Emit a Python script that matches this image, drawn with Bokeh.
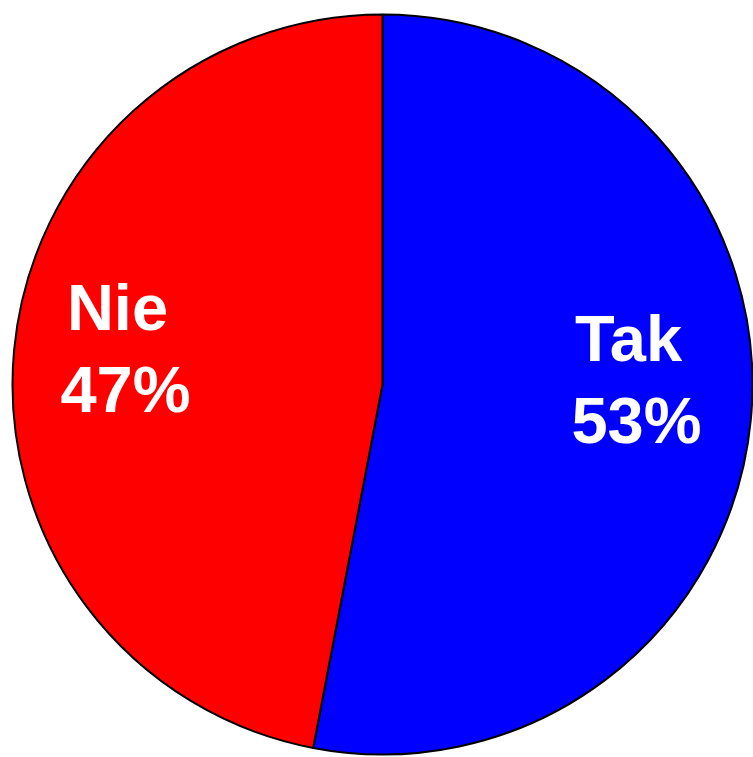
import math
from bokeh.plotting import figure
from bokeh.models import Range1d
from bokeh.core.properties import value
from bokeh.embed import file_html
from bokeh.resources import INLINE

# Data
categories = ["Tak", "Nie"]
values = [53, 47]
colors = ["#0000FF", "#FF0000"]
percent_labels = ["53%", "47%"]

W, H = 753, 757
p = figure(width=W, height=H, output_backend="svg", toolbar_location=None,
           x_range=Range1d(0, W), y_range=Range1d(0, H),
           x_axis_type=None, y_axis_type=None, min_border=0)
p.outline_line_color = None
p.grid.visible = False
p.background_fill_color = "white"
p.border_fill_color = "white"

def sy(screen_y):
    return H - screen_y

cx, cy, r = 382, sy(384), 370

total = sum(values)
start = 90.0  # degrees, top, going clockwise
for cat, v, col in zip(categories, values, colors):
    sweep = 360.0 * v / total
    end = start - sweep
    p.wedge(x=cx, y=cy, radius=r, start_angle=math.radians(end), end_angle=math.radians(start),
            fill_color=col, line_color="black", line_width=2)
    start = end

# Label placement (screen coords of baseline centre); text renders ~26px low, compensate
TEXT_SHIFT = 26
name_pos = [(628, 364), (117, 333)]
pct_pos = [(636, 446), (125, 415)]
for cat, pl, npos, ppos in zip(categories, percent_labels, name_pos, pct_pos):
    p.text(x=[npos[0]], y=[sy(npos[1] - TEXT_SHIFT)], text=[cat], text_color="white",
           text_font=value("Liberation Sans"), text_font_style="bold",
           text_font_size="65px", text_align="center", text_baseline="alphabetic")
    p.text(x=[ppos[0]], y=[sy(ppos[1] - TEXT_SHIFT)], text=[pl], text_color="white",
           text_font=value("Liberation Sans"), text_font_style="bold",
           text_font_size="65px", text_align="center", text_baseline="alphabetic")

open("out.html", "w").write(file_html(p, INLINE))
